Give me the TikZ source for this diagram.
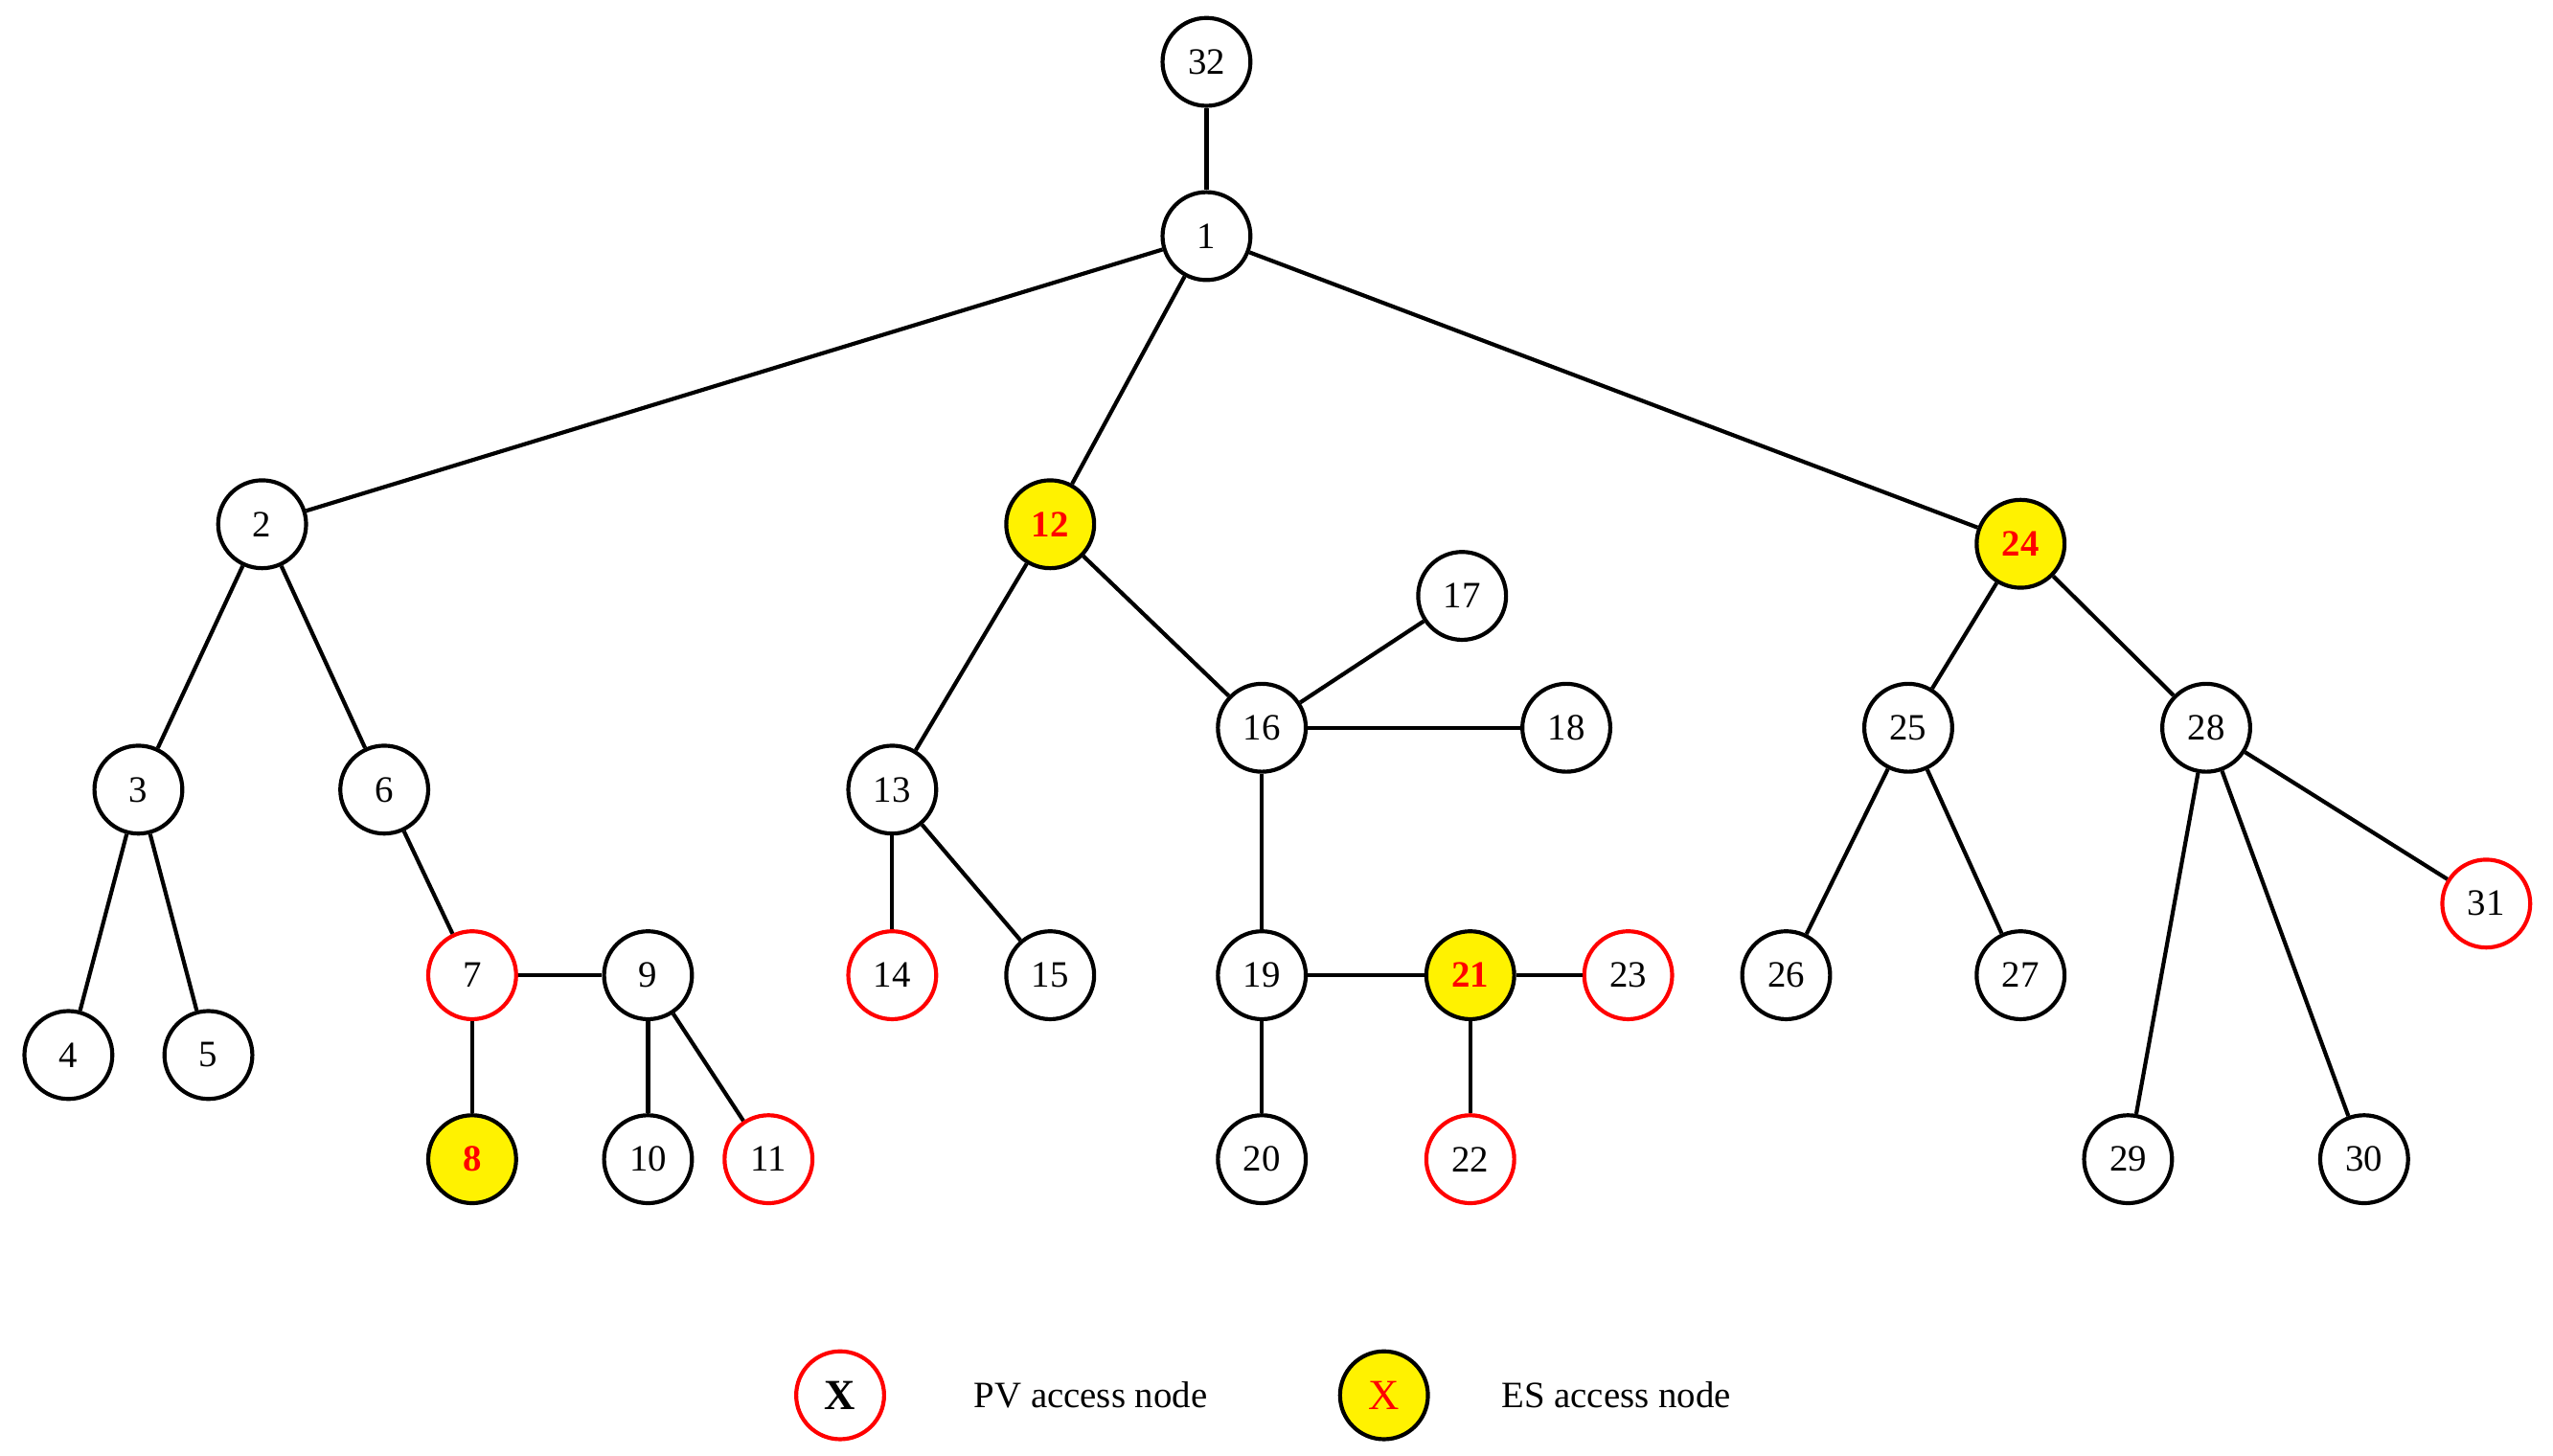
\documentclass[tikz,border=0pt]{standalone}
\usepackage{fontspec}
\setmainfont{Liberation Serif}
\begin{document}
\begin{tikzpicture}[x=0.02cm,y=-0.02cm,
  n/.style={circle,draw=black,line width=1.4pt,fill=white,minimum size=1.08cm,inner sep=0pt,font=\fontsize{13}{14}\selectfont},
  pv/.style={n,draw=red},
  es/.style={n,fill=yellow,text=red,font=\fontsize{13}{14}\selectfont\bfseries},
  e/.style={line width=1.4pt}]
\useasboundingbox (0,0) rectangle (1568,894);
\node[n] (n32) at (741,38) {32};
\node[n] (n1) at (741,145) {1};
\node[n] (n2) at (161,322) {2};
\node[es] (n12) at (645,322) {12};
\node[es] (n24) at (1241,334) {24};
\node[n] (n3) at (85,485) {3};
\node[n] (n6) at (236,485) {6};
\node[n] (n4) at (42,648) {4};
\node[n] (n5) at (128,648) {5};
\node[pv] (n7) at (290,599) {7};
\node[n] (n9) at (398,599) {9};
\node[es] (n8) at (290,712) {8};
\node[n] (n10) at (398,712) {10};
\node[pv] (n11) at (472,712) {11};
\node[n] (n13) at (548,485) {13};
\node[pv] (n14) at (548,599) {14};
\node[n] (n15) at (645,599) {15};
\node[n] (n16) at (775,447) {16};
\node[n] (n17) at (898,366) {17};
\node[n] (n18) at (962,447) {18};
\node[n] (n19) at (775,599) {19};
\node[n] (n20) at (775,712) {20};
\node[es] (n21) at (903,599) {21};
\node[pv] (n22) at (903,712) {22};
\node[pv] (n23) at (1000,599) {23};
\node[n] (n25) at (1172,447) {25};
\node[n] (n28) at (1355,447) {28};
\node[n] (n26) at (1097,599) {26};
\node[n] (n27) at (1241,599) {27};
\node[n] (n29) at (1307,712) {29};
\node[n] (n30) at (1452,712) {30};
\node[pv] (n31) at (1527,555) {31};
\begin{scope}[on background layer/.try]
\end{scope}
\foreach \a/\b in {32/1,1/2,1/12,1/24,2/3,2/6,3/4,3/5,6/7,7/9,7/8,9/10,9/11,12/13,12/16,13/14,13/15,16/17,16/18,16/19,19/20,19/21,21/22,21/23,24/25,24/28,25/26,25/27,28/29,28/30,28/31}
  \draw[e] (n\a) -- (n\b);
\node[pv,font=\fontsize{15}{16}\selectfont\bfseries] (l1) at (516,857) {X};
\node[anchor=west,font=\fontsize{13}{14}\selectfont] (t1) at (592,857) {PV access node};
\node[es,font=\fontsize{15}{16}\selectfont] (l2) at (850,857) {X};
\node[anchor=west,font=\fontsize{13}{14}\selectfont] (t2) at (916,857) {ES access node};
\end{tikzpicture}
\end{document}
